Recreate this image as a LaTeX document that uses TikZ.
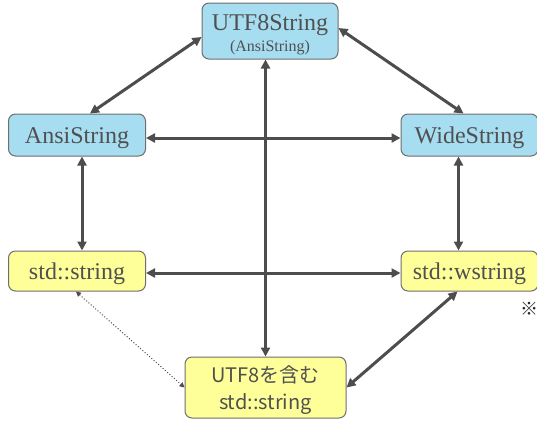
\documentclass[tikz,border=0pt]{standalone}
\usepackage{fontspec}
\setmainfont{Liberation Serif}
\newfontfamily\jpfont{Noto Sans CJK JP}
\usetikzlibrary{positioning,arrows.meta}
\definecolor{strBlue}{RGB}{166,221,240}
\definecolor{strYellow}{RGB}{255,255,153}
\definecolor{strEdge}{RGB}{110,110,110}
\definecolor{strArrow}{RGB}{77,77,77}
\definecolor{strText}{RGB}{80,80,80}

\begin{document}
\begin{tikzpicture}[x=1pt, y=-1pt,
  strbox/.style={draw=strEdge, line width=1pt, rounded corners=7pt, text=strText,
    inner sep=0pt, align=center, font=\fontsize{24}{26}\selectfont},
  bluebox/.style={strbox, fill=strBlue, minimum width=137pt, minimum height=42pt,
    text height=17pt, text depth=0pt},
  yellowbox/.style={strbox, fill=strYellow, minimum width=137pt, minimum height=40pt,
    text height=17pt, text depth=0pt},
  conv/.style={{Triangle[length=9pt,width=9pt]}-{Triangle[length=9pt,width=9pt]},
    line width=3pt, draw=strArrow},
  weakconv/.style={{Triangle[length=5pt,width=5pt]}-{Triangle[length=5pt,width=5pt]},
    line width=1pt, dotted, draw=strArrow}]
  \useasboundingbox (0,0) rectangle (537,421);

  % String classes
  \node[strbox, fill=strBlue, minimum width=136pt, minimum height=56pt,
    text height=43.5pt, text depth=3.5pt] (utfstr) at (270,31)
    {UTF8String\\[-5pt]{\fontsize{16}{18}\selectfont (AnsiString)}};
  \node[bluebox] (ansi) at (77,135) {AnsiString};
  \node[bluebox] (wide) at (469.5,135) {WideString};

  % std strings
  \node[yellowbox] (stdstr) at (77,271) {std::string};
  \node[yellowbox] (wstr) at (469.5,271) {std::wstring};
  \node[strbox, fill=strYellow, minimum width=161pt, minimum height=61pt,
    font=\jpfont\fontsize{20}{27}\selectfont, text height=47pt, text depth=4pt]
    (utfstd) at (265.5,387.5) {UTF8を含む\\std::string};

  \node[font=\jpfont\fontsize{18}{18}\selectfont, text=black!85, inner sep=0pt] (note) at (529,309) {※};

  % Conversions
  \draw[conv] ([yshift=-6pt]utfstr.west) -- ([xshift=13pt]ansi.north);
  \draw[conv] ([yshift=3pt]utfstr.east) -- ([xshift=-6pt]wide.north);
  \draw[conv] ([yshift=-3pt]ansi.east) -- ([yshift=-3pt]wide.west);
  \draw[conv] (utfstd.north) -- (utfstd.north |- utfstr.south);
  \draw[conv] ([xshift=5pt]ansi.south) -- ([xshift=5pt]stdstr.north);
  \draw[conv] ([xshift=-11pt]wide.south) -- ([xshift=-11pt]wstr.north);
  \draw[conv] ([yshift=-2pt]stdstr.east) -- ([yshift=-2pt]wstr.west);
  \draw[conv] ([xshift=-12pt]wstr.south) -- (utfstd.east);
  \draw[weakconv] ([xshift=-1pt]stdstr.south) -- (utfstd.west);
\end{tikzpicture}
\end{document}
